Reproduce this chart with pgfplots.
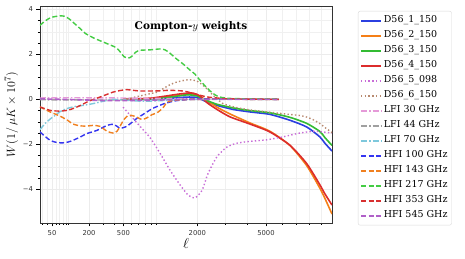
\documentclass[border=0pt]{standalone}
\usepackage{fontspec}
\setmainfont{DejaVu Serif}
\setsansfont{DejaVu Sans}
\usepackage{pgfplots}
\pgfplotsset{compat=1.18}
\usepackage{pgfplotstable}

\definecolor{cBlue}{HTML}{2B3FE0}
\definecolor{cOrange}{HTML}{F57F17}
\definecolor{cGreen}{HTML}{33BB33}
\definecolor{cRed}{HTML}{DC2C2C}
\definecolor{cOrchid}{HTML}{C86DD7}
\definecolor{cBrown}{HTML}{B88A70}
\definecolor{cPink}{HTML}{E59AD8}
\definecolor{cGrey}{HTML}{A0A0A0}
\definecolor{cSky}{HTML}{7EC8DC}
\definecolor{hBlue}{HTML}{3535F0}
\definecolor{hOrange}{HTML}{F08020}
\definecolor{hGreen}{HTML}{44CC44}
\definecolor{hRed}{HTML}{D83030}
\definecolor{hPurple}{HTML}{B060C8}

% ell, W
\pgfplotstableread{
l y
495 0.0
881 0.0
1278 0.05
1701 0.1
1990 0.08
2245 -0.08
2672 -0.27
3324 -0.45
4125 -0.56
5232 -0.67
6535 -0.93
7800 -1.23
8895 -1.67
9340 -1.95
10000 -2.3
}\dA
\pgfplotstableread{
l y
495 0.0
881 0.03
1278 0.12
1646 0.2
1929 0.22
2245 0.0
2672 -0.35
3192 -0.65
4125 -1.05
5232 -1.42
6535 -2.05
7800 -2.95
8895 -3.95
9340 -4.4
10000 -5.1
}\dB
\pgfplotstableread{
l y
495 0.0
881 0.02
1278 0.1
1701 0.2
1990 0.15
2245 -0.02
2672 -0.22
3324 -0.38
4125 -0.5
5232 -0.6
6535 -0.8
7800 -1.07
8895 -1.43
9340 -1.7
10000 -2.05
}\dC
\pgfplotstableread{
l y
495 0.0
881 0.05
1169 0.14
1516 0.24
1842 0.28
2083 0.15
2314 -0.15
2672 -0.45
3192 -0.78
4125 -1.1
5232 -1.45
6535 -2.04
7800 -2.86
8895 -3.8
9340 -4.2
10000 -4.7
}\dD
\pgfplotstableread{
l y
495 -0.35
581 -0.7
720 -1.2
881 -1.7
1067 -2.4
1278 -3.15
1516 -3.8
1728 -4.25
1929 -4.38
2149 -4.05
2349 -3.3
2672 -2.55
3068 -2.12
3502 -1.95
4125 -1.87
5055 -1.8
6055 -1.67
7265 -1.5
8470 -1.42
10000 -1.5
}\dE
\pgfplotstableread{
l y
495 0.0
581 0.05
720 0.15
881 0.25
1008 0.32
1127 0.47
1278 0.65
1442 0.77
1646 0.85
1784 0.87
1990 0.81
2245 0.55
2528 0.18
2904 -0.19
3502 -0.37
4125 -0.47
5055 -0.56
6055 -0.64
7265 -0.72
7800 -0.79
8297 -0.9
8895 -1.08
9340 -1.25
10000 -1.48
}\dF
\pgfplotstableread{
l y
27 0.06
100 0.07
461 0.06
1067 0.04
2083 0.02
5800 0.0
}\lA
\pgfplotstableread{
l y
27 -0.02
275 -0.03
881 -0.02
2083 0.0
5800 0.0
}\lB
\pgfplotstableread{
l y
27 -1.35
35.5 -1.08
45.5 -0.88
57 -0.72
71 -0.55
94 -0.41
126 -0.32
165 -0.27
219 -0.2
275 -0.12
333 -0.05
388 0.0
461 -0.02
581 -0.05
720 -0.08
881 -0.08
1169 -0.05
1516 -0.02
2083 0.0
5800 0.0
}\lC
\pgfplotstableread{
l y
27 -1.45
35.5 -1.65
45.5 -1.82
57 -1.9
77 -1.94
98 -1.9
118 -1.82
150 -1.68
188 -1.52
253 -1.38
333 -1.16
388 -1.11
429 -1.2
461 -1.29
506 -1.25
542 -1.2
607 -1.02
676 -0.84
751 -0.7
831 -0.56
917 -0.42
1008 -0.32
1169 -0.18
1393 -0.07
1646 -0.02
2083 0.02
2784 0.01
5800 0.0
}\hA
\pgfplotstableread{
l y
27 -0.34
35.5 -0.45
45.5 -0.56
57 -0.65
77 -0.79
98 -0.95
118 -1.1
150 -1.18
188 -1.19
225 -1.16
275 -1.2
333 -1.42
388 -1.5
429 -1.42
461 -1.2
506 -0.9
555 -0.72
607 -0.72
676 -0.8
751 -0.9
831 -0.82
917 -0.68
1008 -0.6
1127 -0.38
1212 -0.13
1346 -0.05
1516 -0.02
2083 0.0
5800 0.0
}\hB
\pgfplotstableread{
l y
27 3.29
35.5 3.48
45.5 3.62
57 3.68
71 3.71
87 3.69
105 3.55
126 3.35
150 3.15
180 2.92
239 2.7
300 2.55
360 2.42
420 2.3
461 2.12
506 1.9
555 1.83
600 1.9
660 2.1
720 2.18
881 2.2
1067 2.24
1169 2.2
1278 2.05
1393 1.85
1516 1.68
1646 1.5
1784 1.3
1929 1.12
2083 0.85
2245 0.6
2416 0.38
2596 0.2
2784 0.1
3192 0.04
4125 0.02
5800 0.01
}\hC
\pgfplotstableread{
l y
27 -0.34
35.5 -0.42
45.5 -0.49
60 -0.52
77 -0.52
98 -0.48
118 -0.41
150 -0.28
188 -0.12
230 0.0
275 0.1
333 0.22
388 0.32
461 0.39
542 0.43
620 0.4
720 0.37
881 0.37
1067 0.38
1278 0.4
1593 0.37
1842 0.28
2083 0.18
2349 0.1
2672 0.06
3192 0.02
5800 0.0
}\hD
\pgfplotstableread{
l y
27 0.02
71 0.0
150 -0.02
275 -0.05
461 -0.06
881 -0.04
1516 -0.01
2083 0.0
5800 0.0
}\hE

\begin{document}
\begin{tikzpicture}
\useasboundingbox (0pt,0pt) rectangle (465pt,259pt);
\begin{axis}[
  at={(40pt,36pt)}, anchor=south west,
  width=292pt, height=217pt, scale only axis,
  xmin=2.69, xmax=15.849,
  ymin=-5.5, ymax=4.15,
  xtick={3.2336,4.901,6.452,9.780,12.873},
  xticklabels={50,200,500,2000,5000},
  minor xtick={2.774,3.024,3.415,3.577,3.723,3.857,3.981,5.535,6.034,6.815,7.138,7.429,7.696,7.943,11.045,12.040,13.598,14.240,14.822,15.357},
  ytick={-4,-2,0,2,4},
  yticklabels={−4,−2,0,2,4},
  minor y tick num=3,
  tick pos=left,
  tick align=outside,
  major tick length=3.5pt, minor tick length=2pt,
  tick style={black, line width=0.6pt},
  grid=both,
  major grid style={gray!15, line width=0.5pt},
  minor grid style={gray!12, line width=0.4pt},
  axis line style={black!80, line width=0.9pt},
  ticklabel style={font=\sffamily\fontsize{6.8}{8}\selectfont, text=black!80},
  xlabel={$\ell$},
  xlabel style={font=\fontsize{14}{14}\selectfont, yshift=4pt},
  ylabel={$W(1/\,\mu K\times10^7)$},
  ylabel style={font=\fontsize{13}{13}\selectfont, yshift=-2pt},
  legend cell align=left,
  legend style={at={(318pt,212pt)}, anchor=north west,
    font=\fontsize{9.5}{11}\selectfont, draw=gray!30, rounded corners=2pt,
    row sep=0pt, inner xsep=2pt, inner ysep=2pt,
    nodes={inner ysep=0pt, text height=9.8pt, text depth=5.2pt}},
  legend image code/.code={\draw[#1, line width=1.7pt] (0pt,0pt) -- (20pt,0pt);},
  every axis plot/.append style={smooth, tension=0.4},
]
\addplot[cBlue, line width=1.6pt] table[x expr={(\thisrow{l})^0.3}, y=y] {\dA};
\addlegendentry{D56\_1\_150}
\addplot[cOrange, line width=1.6pt] table[x expr={(\thisrow{l})^0.3}, y=y] {\dB};
\addlegendentry{D56\_2\_150}
\addplot[cGreen, line width=1.6pt] table[x expr={(\thisrow{l})^0.3}, y=y] {\dC};
\addlegendentry{D56\_3\_150}
\addplot[cRed, line width=1.6pt] table[x expr={(\thisrow{l})^0.3}, y=y] {\dD};
\addlegendentry{D56\_4\_150}
\addplot[cOrchid, line width=1.4pt, dash pattern=on 1.4pt off 2.3pt] table[x expr={(\thisrow{l})^0.3}, y=y] {\dE};
\addlegendentry{D56\_5\_098}
\addplot[cBrown, line width=1.4pt, dash pattern=on 1.4pt off 2.3pt] table[x expr={(\thisrow{l})^0.3}, y=y] {\dF};
\addlegendentry{D56\_6\_150}
\addplot[cPink, line width=1.4pt, dash pattern=on 6pt off 2pt on 1.5pt off 2pt] table[x expr={(\thisrow{l})^0.3}, y=y] {\lA};
\addlegendentry{LFI 30 GHz}
\addplot[cGrey, line width=1.4pt, dash pattern=on 6pt off 2pt on 1.5pt off 2pt] table[x expr={(\thisrow{l})^0.3}, y=y] {\lB};
\addlegendentry{LFI 44 GHz}
\addplot[cSky, line width=1.4pt, dash pattern=on 6pt off 2pt on 1.5pt off 2pt] table[x expr={(\thisrow{l})^0.3}, y=y] {\lC};
\addlegendentry{LFI 70 GHz}
\addplot[hBlue, line width=1.4pt, dash pattern=on 5pt off 2.5pt] table[x expr={(\thisrow{l})^0.3}, y=y] {\hA};
\addlegendentry{HFI 100 GHz}
\addplot[hOrange, line width=1.4pt, dash pattern=on 5pt off 2.5pt] table[x expr={(\thisrow{l})^0.3}, y=y] {\hB};
\addlegendentry{HFI 143 GHz}
\addplot[hGreen, line width=1.4pt, dash pattern=on 5pt off 2.5pt] table[x expr={(\thisrow{l})^0.3}, y=y] {\hC};
\addlegendentry{HFI 217 GHz}
\addplot[hRed, line width=1.4pt, dash pattern=on 5pt off 2.5pt] table[x expr={(\thisrow{l})^0.3}, y=y] {\hD};
\addlegendentry{HFI 353 GHz}
\addplot[hPurple, line width=1.6pt, dash pattern=on 5pt off 2.5pt] table[x expr={(\thisrow{l})^0.3}, y=y] {\hE};
\addlegendentry{HFI 545 GHz}
\node[font=\bfseries\fontsize{10.5}{12}\selectfont] at (rel axis cs:0.517,0.903) {Compton-$y$ weights};
\end{axis}
\end{tikzpicture}
\end{document}
